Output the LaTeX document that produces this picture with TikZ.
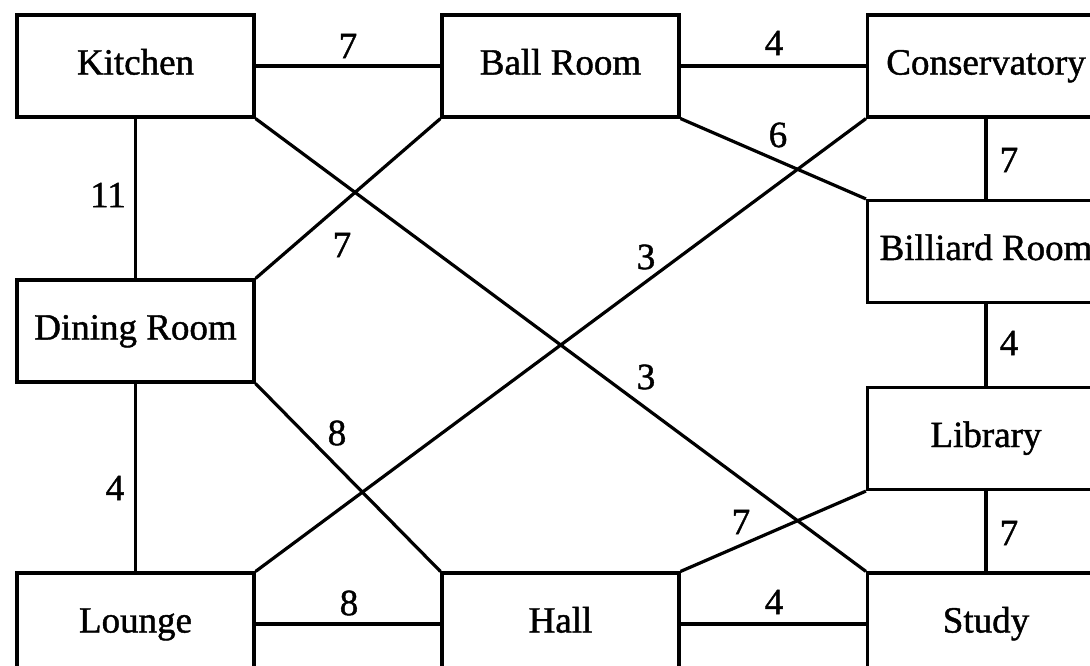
\documentclass[tikz,border=0pt]{standalone}
\usepackage{fontspec}
\setmainfont{Liberation Serif}
\newfontfamily\roomfont{Liberation Serif}[FakeBold=1.2]
\begin{document}
\begin{tikzpicture}[x=1pt,y=-1pt,
  room/.style={draw=black, line width=3.2pt, fill=white, minimum width=237pt, minimum height=102pt, inner sep=0pt, text height=25pt, text depth=8pt, font=\roomfont\fontsize{37}{40}\selectfont},
  link/.style={draw=black, line width=3.2pt},
  wt/.style={font=\roomfont\fontsize{37}{40}\selectfont, inner sep=0pt}]
\clip (0,0) rectangle (1090,665);
\fill[white] (0,0) rectangle (1090,665);
% rooms
\node[room] (kit) at (135.5,66) {Kitchen};
\node[room] (ball) at (560.5,66) {Ball Room};
\node[room] (cons) at (986,66) {Conservatory};
\node[room] (bill) at (986,251.5) {Billiard Room};
\node[room] (din) at (135.5,331) {Dining Room};
\node[room] (lib) at (986,438.5) {Library};
\node[room] (lou) at (135.5,624) {Lounge};
\node[room] (hall) at (560.5,624) {Hall};
\node[room] (stu) at (986,624) {Study};
% connectors
\draw[link] (kit.east) -- (ball.west);
\draw[link] (ball.east) -- (cons.west);
\draw[link] (cons.south) -- (bill.north);
\draw[link] (bill.south) -- (lib.north);
\draw[link] (lib.south) -- (stu.north);
\draw[link] (kit.south) -- (din.north);
\draw[link] (din.south) -- (lou.north);
\draw[link] (lou.east) -- (hall.west);
\draw[link] (hall.east) -- (stu.west);
\draw[link] (kit.south east) -- (stu.north west);
\draw[link] (ball.south west) -- (din.north east);
\draw[link] (ball.south east) -- (bill.north west);
\draw[link] (cons.south west) -- (lou.north east);
\draw[link] (din.south east) -- (hall.north west);
\draw[link] (lib.south west) -- (hall.north east);
% weights
\node[wt] (w1) at (348,46) {7};
\node[wt] (w2) at (774,43) {4};
\node[wt] (w3) at (778,135) {6};
\node[wt] (w4) at (1009,160) {7};
\node[wt] (w5) at (108,195) {11};
\node[wt] (w6) at (342,245) {7};
\node[wt] (w7) at (646,257) {3};
\node[wt] (w8) at (1009,343) {4};
\node[wt] (w9) at (646,377) {3};
\node[wt] (w10) at (337,433) {8};
\node[wt] (w11) at (115,488) {4};
\node[wt] (w12) at (741,522) {7};
\node[wt] (w13) at (1009,533) {7};
\node[wt] (w14) at (349,603) {8};
\node[wt] (w15) at (774,602) {4};
\end{tikzpicture}
\end{document}
